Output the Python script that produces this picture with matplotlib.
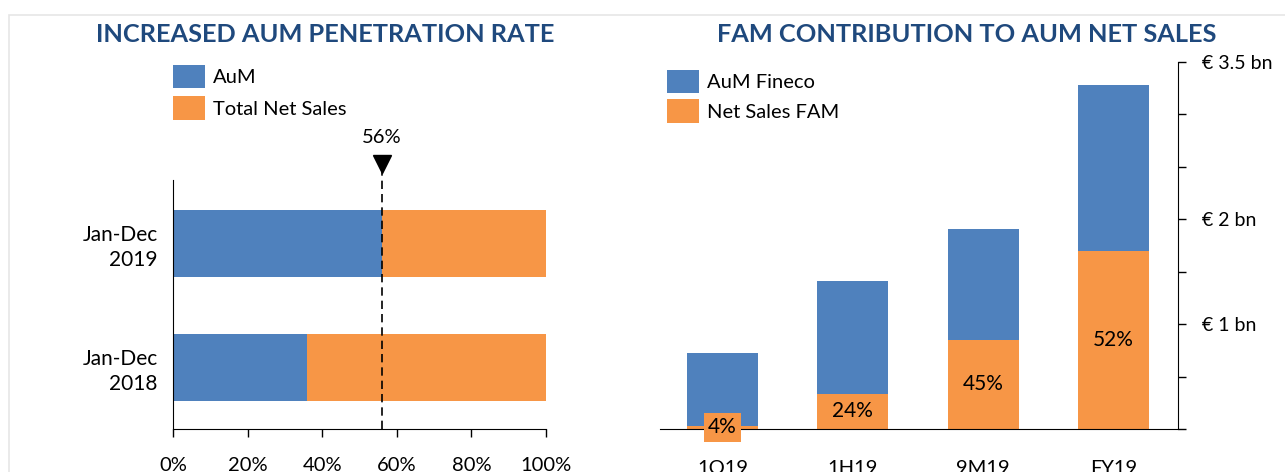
import matplotlib.pyplot as plt
from matplotlib.patches import Rectangle
import numpy as np

plt.rcParams['font.family'] = ['Lato', 'DejaVu Sans']

# data - left chart (share of total net sales)
periods = ['Jan-Dec\n2018', 'Jan-Dec\n2019']
aum_share = [0.36, 0.56]
penetration_mark = 0.56

# data - right chart (EUR bn)
quarters = ['1Q19', '1H19', '9M19', 'FY19']
aum_fineco = [0.725, 1.41, 1.91, 3.28]
net_sales_fam = [0.03, 0.335, 0.85, 1.70]
fam_pct = ['4%', '24%', '45%', '52%']

blue = '#4F81BD'
orange = '#F79646'
navy = '#1F497D'

W, H = 1285, 472
fig = plt.figure(figsize=(W / 100, H / 100), dpi=100, facecolor='white')

def px(x0, y0, x1, y1):
    return [x0 / W, 1 - y1 / H, (x1 - x0) / W, (y1 - y0) / H]

# light frame
fig.patches.append(Rectangle((9 / W, -0.1), 2, 1 - 15 / H + 0.1, transform=fig.transFigure,
                             fill=False, edgecolor='#E6E6E6', linewidth=1.2))

leg_kw = dict(frameon=False, fontsize=14.5, handlelength=1.6, handleheight=1.4,
              handletextpad=0.4, borderaxespad=0, borderpad=0)

# ---- left chart ----
ax0 = fig.add_axes(px(173, 180, 546, 429))
y = np.arange(len(periods))
ax0.barh(y, aum_share, height=0.54, color=blue, label='AuM')
ax0.barh(y, [1 - v for v in aum_share], left=aum_share, height=0.54, color=orange, label='Total Net Sales')
ax0.set_xlim(0, 1)
ax0.set_ylim(-0.5, 1.51)
ax0.set_yticks(y)
ax0.set_yticklabels(periods, fontsize=15, linespacing=1.3)
ax0.tick_params(axis='y', length=0, pad=11)
ax0.set_xticks(np.linspace(0, 1, 6))
ax0.set_xticklabels(['0%', '20%', '40%', '60%', '80%', '100%'], fontsize=14.5)
ax0.tick_params(axis='x', length=6, width=1, pad=14)
for s in ['top', 'right']:
    ax0.spines[s].set_visible(False)
ax0.axvline(penetration_mark, ymin=0, ymax=1.04, color='black', linestyle=(0, (5, 3)),
            linewidth=1.2, clip_on=False)
ax0.plot([penetration_mark], [1.64], marker='v', color='black', markersize=13, clip_on=False)
ax0.text(penetration_mark, 1.856, '56%', ha='center', va='center', fontsize=14.5, clip_on=False)
ax0.legend(loc='upper left', bbox_to_anchor=(173 / W, 1 - 65 / H), bbox_transform=fig.transFigure,
           labelspacing=0.4, **leg_kw)
fig.text(325 / W, 1 - 35 / H, 'INCREASED AUM PENETRATION RATE', ha='center', va='center',
         fontsize=18.3, fontweight='bold', color=navy)

# ---- right chart ----
ax1 = fig.add_axes(px(660, 62, 1178, 429))
x = np.arange(len(quarters))
ax1.bar(x, aum_fineco, width=0.545, color=blue, label='AuM Fineco')
ax1.bar(x, net_sales_fam, width=0.545, color=orange, label='Net Sales FAM')
for i, lab in enumerate(fam_pct):
    if i == 0:
        ax1.text(x[i], net_sales_fam[i] / 2, lab, ha='center', va='center', fontsize=15,
                 bbox=dict(boxstyle='square,pad=0.2', facecolor=orange, edgecolor='none'))
    else:
        ax1.text(x[i], net_sales_fam[i] / 2, lab, ha='center', va='center', fontsize=15)
ax1.set_xlim(-0.48, 3.495)
ax1.set_ylim(0, 3.5)
ax1.set_xticks(x)
ax1.set_xticklabels(quarters, fontsize=14.5)
ax1.tick_params(axis='x', length=0, pad=22)
ax1.yaxis.tick_right()
ax1.set_yticks(np.arange(0, 3.51, 0.5))
ax1.set_yticklabels(['', '', '€ 1 bn', '', '€ 2 bn', '', '', '€ 3.5 bn'], fontsize=14)
ax1.tick_params(axis='y', length=6, width=1, pad=11)
for s in ['top', 'left']:
    ax1.spines[s].set_visible(False)
ax1.legend(loc='upper left', bbox_to_anchor=(667 / W, 1 - 70 / H), bbox_transform=fig.transFigure,
           labelspacing=0.3, **leg_kw)
fig.text(967 / W, 1 - 35 / H, 'FAM CONTRIBUTION TO AUM NET SALES', ha='center', va='center',
         fontsize=18.3, fontweight='bold', color=navy)

fig.savefig('out.png', dpi=100, facecolor='white')
